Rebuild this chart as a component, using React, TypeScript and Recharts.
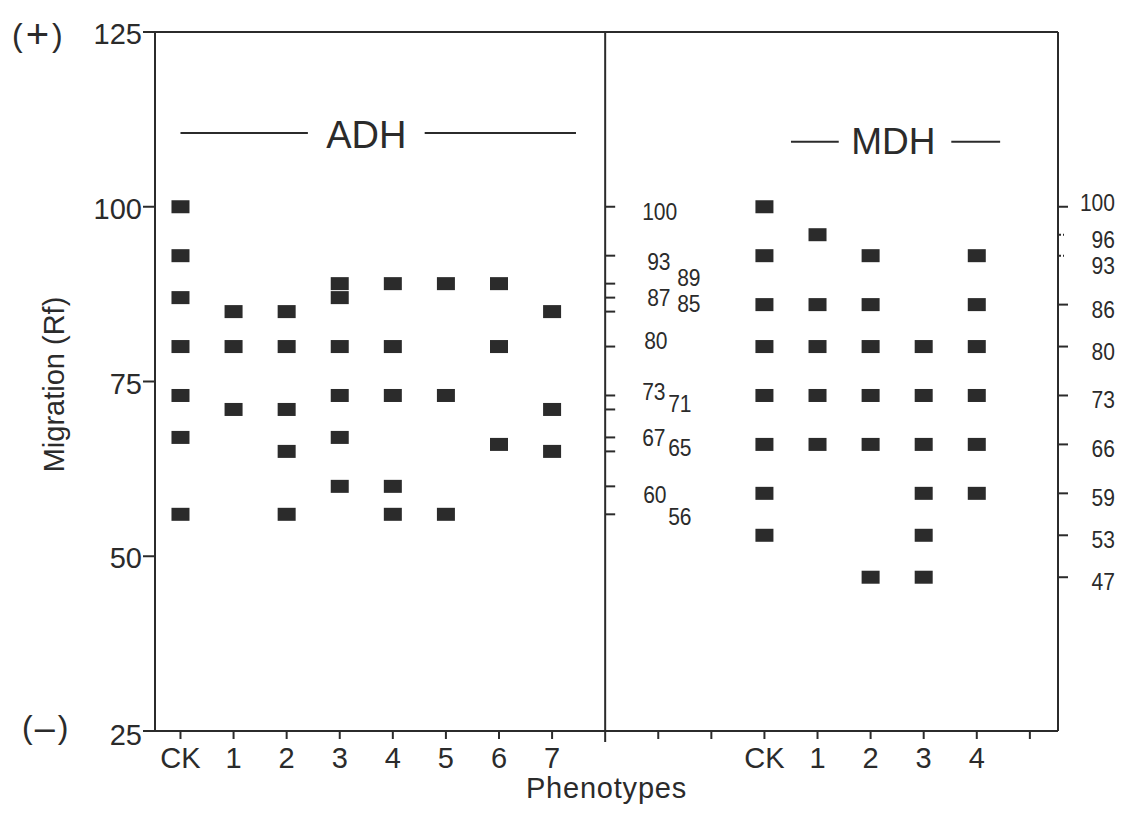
import {
  ScatterChart,
  Scatter,
  XAxis,
  YAxis,
  ReferenceLine,
  ReferenceDot,
  Label,
} from "recharts";

// Lanes (phenotypes) and the Rf of every band scored in each lane
const adhLanes = ["CK", "1", "2", "3", "4", "5", "6", "7"];
const adhBands = [
  [100, 93, 87, 80, 73, 67, 56],
  [85, 80, 71],
  [85, 80, 71, 65, 56],
  [89, 87, 80, 73, 67, 60],
  [89, 80, 73, 60, 56],
  [89, 73, 56],
  [89, 80, 66],
  [85, 71, 65],
];

const mdhLanes = ["CK", "1", "2", "3", "4"];
const mdhBands = [
  [100, 93, 86, 80, 73, 66, 59, 53],
  [96, 86, 80, 73, 66],
  [93, 86, 80, 73, 66, 47],
  [80, 73, 66, 59, 53, 47],
  [93, 86, 80, 73, 66, 59],
];

// band values marked along the divider (ADH) and the right edge (MDH)
const adhRefBands = [100, 93, 89, 87, 85, 80, 73, 71, 67, 65, 60, 56];
const mdhRefBands = [100, 96, 93, 86, 80, 73, 66, 59, 53, 47];

const yTicks = [25, 50, 75, 100, 125];
const xTicks = [0, 1, 2, 3, 4, 5, 6, 7, 8, 9, 10, 11, 12, 13, 14, 15, 16];
const DIVIDER = 8;
const MDH_START = 11;

const adhData = adhBands.flatMap((bands, lane) => bands.map((rf) => ({ x: lane, y: rf })));
const mdhData = mdhBands.flatMap((bands, lane) =>
  bands.map((rf) => ({ x: MDH_START + lane, y: rf }))
);

const laneLabel = (v: number) => {
  if (v < adhLanes.length) return adhLanes[v];
  const i = v - MDH_START;
  return i >= 0 && i < mdhLanes.length ? mdhLanes[i] : "";
};

const INK = "#2b2b2b";
const FONT = '"Liberation Sans", Arial, Helvetica, sans-serif';

// staggered placement of the ADH band numbers next to the divider: [dx, dy]
const adhLabelNudge: Record<number, [number, number]> = {
  100: [37, 5],
  93: [42, 6],
  89: [72, -6],
  87: [42, 0],
  85: [72, -8],
  80: [39, -6],
  73: [37, -3],
  71: [63, -5],
  67: [37, 1],
  65: [63, -3],
  60: [38, 9],
  56: [63, 3],
};
const mdhLabelNudge: Record<number, number> = { 100: -4, 96: 5, 93: 10 };

// small band numbers are set in a condensed face
const SmallNum = ({ x, y, v, anchor }: any) => {
  const s = String(v);
  return (
    <text
      x={x}
      y={y}
      textAnchor={anchor ?? "start"}
      dominantBaseline="central"
      fontFamily={FONT}
      fontSize={23}
      fill={INK}
      textLength={s.length * 11.7}
      lengthAdjust="spacingAndGlyphs"
    >
      {s}
    </text>
  );
};

const BandMark = (props: any) => (
  <rect x={props.cx - 9} y={props.cy - 6.5} width={18} height={13} fill={INK} />
);

const LeftTick = ({ x, y, payload }: any) => (
  <g>
    <line x1={x - 12} x2={x} y1={y} y2={y} stroke={INK} strokeWidth={2} />
    <text
      x={x - 13}
      y={y + (payload.value === 25 ? 4 : 2)}
      textAnchor="end"
      dominantBaseline="central"
      fontFamily={FONT}
      fontSize={29}
      fill={INK}
    >
      {payload.value}
    </text>
    {payload.value === 125 && (
      <text x={12} y={y + 3} dominantBaseline="central" fontFamily={FONT} fontSize={32} fill={INK}>
        (<tspan fontSize={40} dx={3} dy={-1}>+</tspan>
        <tspan dx={3} dy={1}>)</tspan>
      </text>
    )}
    {payload.value === 25 && (
      <text x={22} y={y - 4} dominantBaseline="central" fontFamily={FONT} fontSize={32} fill={INK}>
        (<tspan fontSize={36} dx={2}>–</tspan>
        <tspan dx={3}>)</tspan>
      </text>
    )}
  </g>
);

const BottomTick = ({ x, y, payload }: any) => {
  const v = payload.value;
  const label = laneLabel(v);
  return (
    <g>
      <line x1={x} x2={x} y1={y} y2={y + (v === DIVIDER ? 11 : 8)} stroke={INK} strokeWidth={2} />
      {label && (
        <text
          x={x}
          y={y + 27}
          textAnchor="middle"
          dominantBaseline="central"
          fontFamily={FONT}
          fontSize={29}
          fill={INK}
        >
          {label}
        </text>
      )}
    </g>
  );
};

const RightTick = ({ x, y, payload }: any) => {
  const v = payload.value;
  const dotted = v === 96 || v === 93;
  return (
    <g>
      {dotted ? (
        <line x1={x + 1} x2={x + 6} y1={y} y2={y} stroke={INK} strokeWidth={2} strokeDasharray="2 2" />
      ) : (
        <line x1={x} x2={x + 10} y1={y} y2={y} stroke={INK} strokeWidth={2} />
      )}
      <SmallNum x={x + 57} y={y + (mdhLabelNudge[v] ?? 5)} v={v} anchor="end" />
    </g>
  );
};

const dividerMark = (v: number) => (p: any) => {
  const [dx, dy] = adhLabelNudge[v];
  return (
    <g>
      <line x1={p.cx} x2={p.cx + 10} y1={p.cy} y2={p.cy} stroke={INK} strokeWidth={2} />
      <SmallNum x={p.cx + dx} y={p.cy + dy} v={v} />
    </g>
  );
};

const title = (text: string, size: number) => (p: any) => (
  <text
    x={p.cx}
    y={p.cy}
    textAnchor="middle"
    dominantBaseline="central"
    fontFamily={FONT}
    fontSize={size}
    fill={INK}
  >
    {text}
  </text>
);

export default function App() {
  return (
    <div style={{ position: "absolute", left: 0, top: 0, width: 1124, height: 816, background: "#fff" }}>
      <ScatterChart width={1124} height={816} margin={{ top: 32, right: 6, bottom: 15, left: 55 }}>
        <XAxis
          type="number"
          dataKey="x"
          domain={[-0.48, 16.53]}
          allowDataOverflow
          ticks={xTicks}
          interval={0}
          height={70}
          axisLine={{ stroke: INK, strokeWidth: 2 }}
          tickLine={false}
          tickSize={0}
          tickMargin={0}
          tick={<BottomTick />}
        >
          <Label
            content={(p: any) => (
              <text
                x={p.viewBox.x + p.viewBox.width / 2}
                y={p.viewBox.y + 67}
                textAnchor="middle"
                fontFamily={FONT}
                fontSize={29}
                letterSpacing={0.8}
                fill={INK}
              >
                Phenotypes
              </text>
            )}
          />
        </XAxis>
        <YAxis
          type="number"
          dataKey="y"
          domain={[25, 125]}
          allowDataOverflow
          ticks={yTicks}
          interval={0}
          width={100}
          axisLine={{ stroke: INK, strokeWidth: 2 }}
          tickLine={false}
          tickSize={0}
          tickMargin={0}
          tick={<LeftTick />}
        >
          <Label
            content={(p: any) => {
              const cx = p.viewBox.x - 1;
              const cy = p.viewBox.y + p.viewBox.height / 2 + 3;
              return (
                <text
                  x={cx}
                  y={cy}
                  transform={`rotate(-90 ${cx} ${cy})`}
                  textAnchor="middle"
                  dominantBaseline="central"
                  fontFamily={FONT}
                  fontSize={29}
                  fill={INK}
                >
                  Migration (Rf)
                </text>
              );
            }}
          />
        </YAxis>
        <YAxis
          yAxisId="r"
          orientation="right"
          type="number"
          domain={[25, 125]}
          allowDataOverflow
          ticks={mdhRefBands}
          interval={0}
          width={60}
          axisLine={{ stroke: INK, strokeWidth: 2 }}
          tickLine={false}
          tickSize={0}
          tickMargin={0}
          tick={<RightTick />}
        />

        <ReferenceLine y={125} stroke={INK} strokeWidth={2} />
        <ReferenceLine x={DIVIDER} stroke={INK} strokeWidth={2} />

        {/* gel titles */}
        <ReferenceLine segment={[{ x: 0, y: 110.55 }, { x: 2.4, y: 110.55 }]} stroke={INK} strokeWidth={2} />
        <ReferenceLine segment={[{ x: 4.6, y: 110.55 }, { x: 7.45, y: 110.55 }]} stroke={INK} strokeWidth={2} />
        <ReferenceDot x={3.5} y={110.3} r={0} shape={title("ADH", 38)} />
        <ReferenceLine segment={[{ x: 11.5, y: 109.3 }, { x: 12.4, y: 109.3 }]} stroke={INK} strokeWidth={2} />
        <ReferenceLine segment={[{ x: 14.52, y: 109.3 }, { x: 15.44, y: 109.3 }]} stroke={INK} strokeWidth={2} />
        <ReferenceDot x={13.43} y={109.4} r={0} shape={title("MDH", 37)} />

        {adhRefBands.map((v) => (
          <ReferenceDot key={`ref-${v}`} x={DIVIDER} y={v} r={0} shape={dividerMark(v)} />
        ))}

        <Scatter name="ADH" data={adhData} shape={BandMark} isAnimationActive={false} />
        <Scatter name="MDH" data={mdhData} shape={BandMark} isAnimationActive={false} />
      </ScatterChart>
    </div>
  );
}
